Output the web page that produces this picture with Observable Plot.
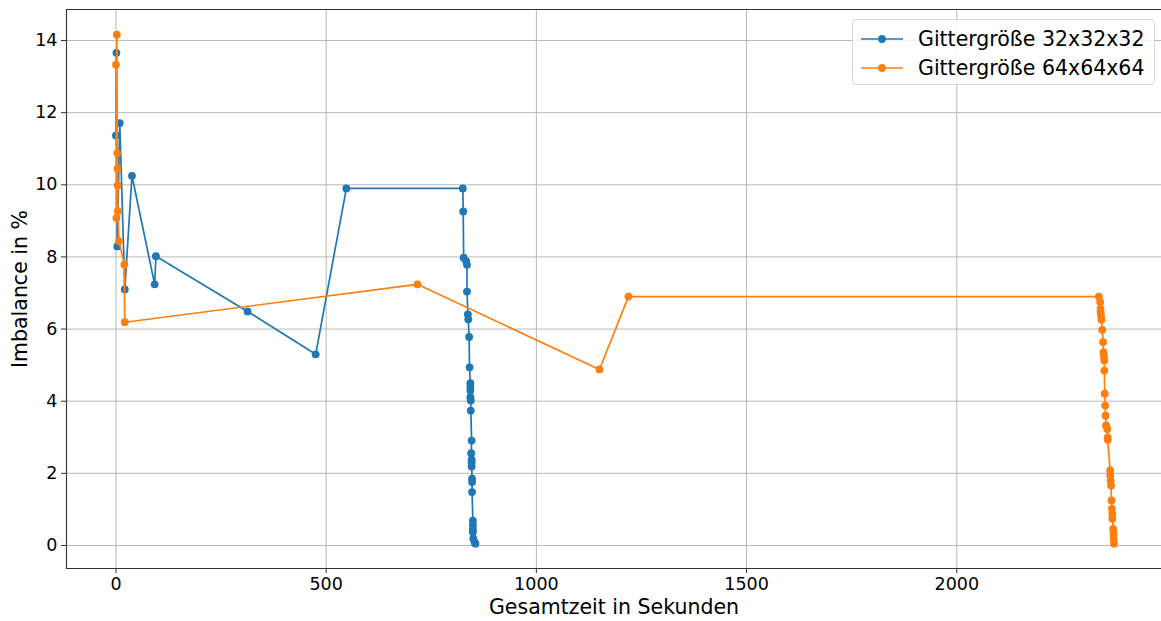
<!DOCTYPE html>
<html>
<head>
<meta charset="utf-8">
<script src="https://cdn.jsdelivr.net/npm/d3@7"></script>
<script src="https://cdn.jsdelivr.net/npm/@observablehq/plot@0.6"></script>
<style>
  html, body { margin: 0; padding: 0; background: #fff; overflow: hidden; }
  #wrap { position: relative; width: 1161px; height: 621px; font-family: "DejaVu Sans", sans-serif; }
  .legend {
    position: absolute; left: 852px; top: 19px; width: 303px; height: 66px;
    border: 1px solid #d6d6d6; border-radius: 4px; background: rgba(255,255,255,0.8);
    box-sizing: border-box; padding: 4px 0 0 8px;
  }
  .legend .row { display: flex; align-items: center; height: 29px; font-size: 20.5px; color: #000; white-space: nowrap; }
  .legend svg { margin-right: 15px; }
</style>
</head>
<body>
<div id="wrap"></div>
<script>
// Lastungleichgewicht über die Gesamtlaufzeit, zwei Gittergrößen
const seriesNames = ["Gittergröße 32x32x32", "Gittergröße 64x64x64"];
const seriesColors = ["#1f77b4", "#ff7f0e"];

const time32 = [0, 1, 3, 9, 21, 38, 92, 95, 313, 475, 548, 825, 826, 827, 833, 835, 835,
  837, 838, 840, 841, 843, 843, 843, 843, 844, 844, 846, 845, 846, 846, 846, 847, 847, 847,
  849, 849, 849, 849, 850, 853, 855];
const imb32 = [11.37, 13.66, 8.29, 11.71, 7.10, 10.25, 7.24, 8.02, 6.49, 5.30, 9.90, 9.90, 9.26,
  7.98, 7.88, 7.78, 7.04, 6.41, 6.27, 5.78, 4.94, 4.50, 4.41, 4.30, 4.11, 4.02, 3.74, 2.91, 2.56,
  2.38, 2.31, 2.19, 1.85, 1.76, 1.48, 0.69, 0.58, 0.46, 0.37, 0.19, 0.09, 0.05];

const time64 = [0, 1, 2, 3, 3.5, 4, 4.5, 7, 20, 21, 717, 1150, 1219, 2338, 2341, 2342, 2342,
  2343, 2344, 2346, 2348, 2349, 2350, 2351, 2351, 2352, 2353, 2354, 2355, 2358, 2359, 2359,
  2365, 2365, 2366, 2367, 2368, 2369, 2370, 2370, 2372, 2373, 2373, 2374];
const imb64 = [13.33, 9.08, 14.16, 10.88, 10.45, 9.98, 9.27, 8.44, 7.79, 6.19, 7.24, 4.88, 6.90,
  6.90, 6.75, 6.56, 6.47, 6.38, 6.26, 5.98, 5.64, 5.36, 5.24, 5.13, 4.85, 4.21, 3.88, 3.60, 3.33,
  3.23, 3.00, 2.93, 2.08, 1.94, 1.80, 1.66, 1.25, 1.02, 0.88, 0.74, 0.46, 0.32, 0.19, 0.05];

const xTicks = [0, 500, 1000, 1500, 2000];
const yTicks = [0, 2, 4, 6, 8, 10, 12, 14];
const xLabel = "Gesamtzeit in Sekunden";
const yLabel = "Imbalance in %";

const rows32 = time32.map((t, i) => ({t, v: imb32[i]}));
const rows64 = time64.map((t, i) => ({t, v: imb64[i]}));

const lw = 1.7, r = 3.9;
const font = "DejaVu Sans, sans-serif";

const chart = Plot.plot({
  width: 1161,
  height: 621,
  marginLeft: 66,
  marginRight: 0,
  marginTop: 9,
  marginBottom: 53,
  style: {fontFamily: font, fontSize: "17.5px", color: "#000", background: "#fff"},
  x: {domain: [-117.7, 2487], ticks: xTicks},
  y: {domain: [-0.638, 14.86], ticks: yTicks},
  marks: [
    Plot.gridX(xTicks, {stroke: "#b0b0b0", strokeOpacity: 1, strokeWidth: 0.9}),
    Plot.gridY(yTicks, {stroke: "#b0b0b0", strokeOpacity: 1, strokeWidth: 0.9}),
    Plot.axisX(xTicks, {tickSize: 5, tickPadding: 4, fontSize: 17.5, label: null, stroke: "#333", tickFormat: d => String(d)}),
    Plot.axisY(yTicks, {tickSize: 5, tickPadding: 4, fontSize: 17.5, label: null, stroke: "#333", tickFormat: d => String(d)}),
    Plot.frame({anchor: "left", stroke: "#333", strokeWidth: 1.1}),
    Plot.frame({anchor: "bottom", stroke: "#333", strokeWidth: 1.1}),
    Plot.frame({anchor: "top", stroke: "#333", strokeWidth: 1.1}),
    Plot.line(rows32, {x: "t", y: "v", stroke: seriesColors[0], strokeWidth: lw}),
    Plot.dot(rows32, {x: "t", y: "v", fill: seriesColors[0], r}),
    Plot.line(rows64, {x: "t", y: "v", stroke: seriesColors[1], strokeWidth: lw}),
    Plot.dot(rows64, {x: "t", y: "v", fill: seriesColors[1], r}),
    Plot.text([xLabel], {frameAnchor: "bottom", dy: 45, fontSize: 20.5, fill: "#000"}),
    Plot.text([yLabel], {frameAnchor: "left", dx: -46, rotate: -90, textAnchor: "middle", fontSize: 20.5, fill: "#000"})
  ]
});

const wrap = document.getElementById("wrap");
wrap.appendChild(chart);

// Legende mit Linien- und Punktsymbol je Serie
const legend = document.createElement("div");
legend.className = "legend";
seriesNames.forEach((name, i) => {
  const row = document.createElement("div");
  row.className = "row";
  row.innerHTML =
    `<svg width="42" height="12"><line x1="0" x2="42" y1="6" y2="6" stroke="${seriesColors[i]}" stroke-width="${lw}"/>` +
    `<circle cx="21" cy="6" r="${r}" fill="${seriesColors[i]}"/></svg><span>${name}</span>`;
  legend.appendChild(row);
});
wrap.appendChild(legend);
</script>
</body>
</html>
